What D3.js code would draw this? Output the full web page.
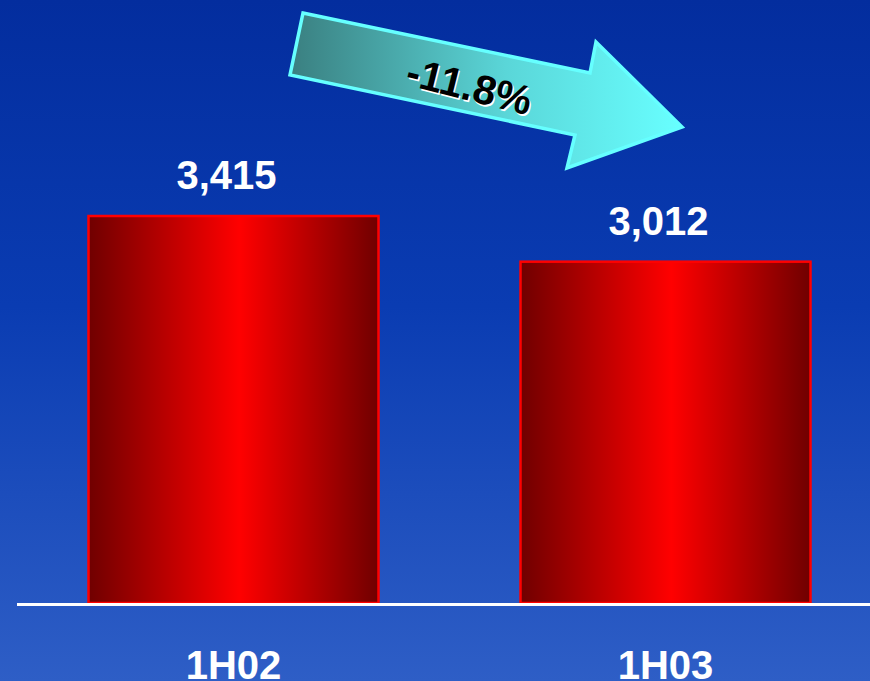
<!DOCTYPE html>
<html>
<head>
<meta charset="utf-8">
<script src="https://cdn.jsdelivr.net/npm/d3@7"></script>
<style>
  html, body { margin: 0; padding: 0; overflow: hidden; background: #0a3cb4; }
  svg { display: block; }
</style>
</head>
<body>
<svg id="chart" width="870" height="681"></svg>
<script>
// ---- data ----
const categories = ["1H02", "1H03"];
const values = [3415, 3012];
const valueLabels = ["3,415", "3,012"];
const changeLabel = "-11.8%";

// ---- layout ----
const W = 870, H = 681;
const baseY = 603;
const svg = d3.select("#chart");
const defs = svg.append("defs");

// background gradient
const bg = defs.append("linearGradient").attr("id", "bg")
  .attr("x1", 0).attr("y1", 0).attr("x2", 0).attr("y2", 1);
bg.append("stop").attr("offset", "0%").attr("stop-color", "#032d9e");
bg.append("stop").attr("offset", "45%").attr("stop-color", "#0a3cb2");
bg.append("stop").attr("offset", "100%").attr("stop-color", "#2e5ec6");
svg.append("rect").attr("width", W).attr("height", H).attr("fill", "url(#bg)");

// bar gradient (horizontal)
const bar = defs.append("linearGradient").attr("id", "barGrad")
  .attr("x1", 0).attr("y1", 0).attr("x2", 1).attr("y2", 0);
bar.append("stop").attr("offset", "0%").attr("stop-color", "#700000");
bar.append("stop").attr("offset", "52%").attr("stop-color", "#ff0000");
bar.append("stop").attr("offset", "100%").attr("stop-color", "#700000");

// scales
const x = d3.scalePoint().domain(categories).range([233.5, 665.5]);
const y = d3.scaleLinear().domain([0, 3415]).range([baseY, 216]);

const bw = 290;
const data = categories.map((c, i) => ({ c, v: values[i], label: valueLabels[i] }));

svg.selectAll("rect.bar").data(data).enter().append("rect")
  .attr("class", "bar")
  .attr("x", d => x(d.c) - bw / 2)
  .attr("y", d => y(d.v))
  .attr("width", bw)
  .attr("height", d => baseY - y(d.v))
  .attr("fill", "url(#barGrad)")
  .attr("stroke", "#ff0000")
  .attr("stroke-width", 2.5);

// baseline
svg.append("line").attr("x1", 17).attr("x2", W).attr("y1", baseY + 1.5).attr("y2", baseY + 1.5)
  .attr("stroke", "#ffffff").attr("stroke-width", 3);

// value labels
svg.selectAll("text.val").data(data).enter().append("text")
  .attr("class", "val")
  .attr("x", d => x(d.c) - 7)
  .attr("y", d => y(d.v) - 27)
  .attr("text-anchor", "middle")
  .attr("font-family", "Liberation Sans, Arial, sans-serif")
  .attr("font-weight", "bold")
  .attr("font-size", 40)
  .attr("fill", "#ffffff")
  .text(d => d.label);

// category labels (cut at the bottom edge, as in the reference)
svg.selectAll("text.cat").data(data).enter().append("text")
  .attr("class", "cat")
  .attr("x", d => x(d.c))
  .attr("y", 679)
  .attr("text-anchor", "middle")
  .attr("font-family", "Liberation Sans, Arial, sans-serif")
  .attr("font-weight", "bold")
  .attr("font-size", 40)
  .attr("fill", "#ffffff")
  .text(d => d.c);

// arrow
const arrowGrad = defs.append("linearGradient").attr("id", "arrowGrad")
  .attr("gradientUnits", "userSpaceOnUse")
  .attr("x1", 290).attr("y1", 0).attr("x2", 682).attr("y2", 0);
arrowGrad.append("stop").attr("offset", "0%").attr("stop-color", "#3a7f80");
arrowGrad.append("stop").attr("offset", "55%").attr("stop-color", "#5ad6d8");
arrowGrad.append("stop").attr("offset", "100%").attr("stop-color", "#68ffff");

const arrowPts = [[303, 13], [590, 73], [596, 42], [682, 127], [567, 168], [575, 135], [290, 75]];
svg.append("path")
  .attr("d", d3.line()(arrowPts) + "Z")
  .attr("fill", "url(#arrowGrad)")
  .attr("stroke", "#66ffff")
  .attr("stroke-width", 3.5)
  .attr("stroke-linejoin", "miter");

const tg = svg.append("g").attr("transform", "translate(466,100) rotate(14)");
tg.append("text")
  .attr("x", 1.5).attr("y", 1.5)
  .attr("text-anchor", "middle")
  .attr("font-family", "Liberation Sans, Arial, sans-serif")
  .attr("font-weight", "bold")
  .attr("font-size", 41)
  .attr("fill", "#ffffff")
  .text(changeLabel);
tg.append("text")
  .attr("text-anchor", "middle")
  .attr("font-family", "Liberation Sans, Arial, sans-serif")
  .attr("font-weight", "bold")
  .attr("font-size", 41)
  .attr("fill", "#000000")
  .text(changeLabel);
</script>
</body>
</html>
